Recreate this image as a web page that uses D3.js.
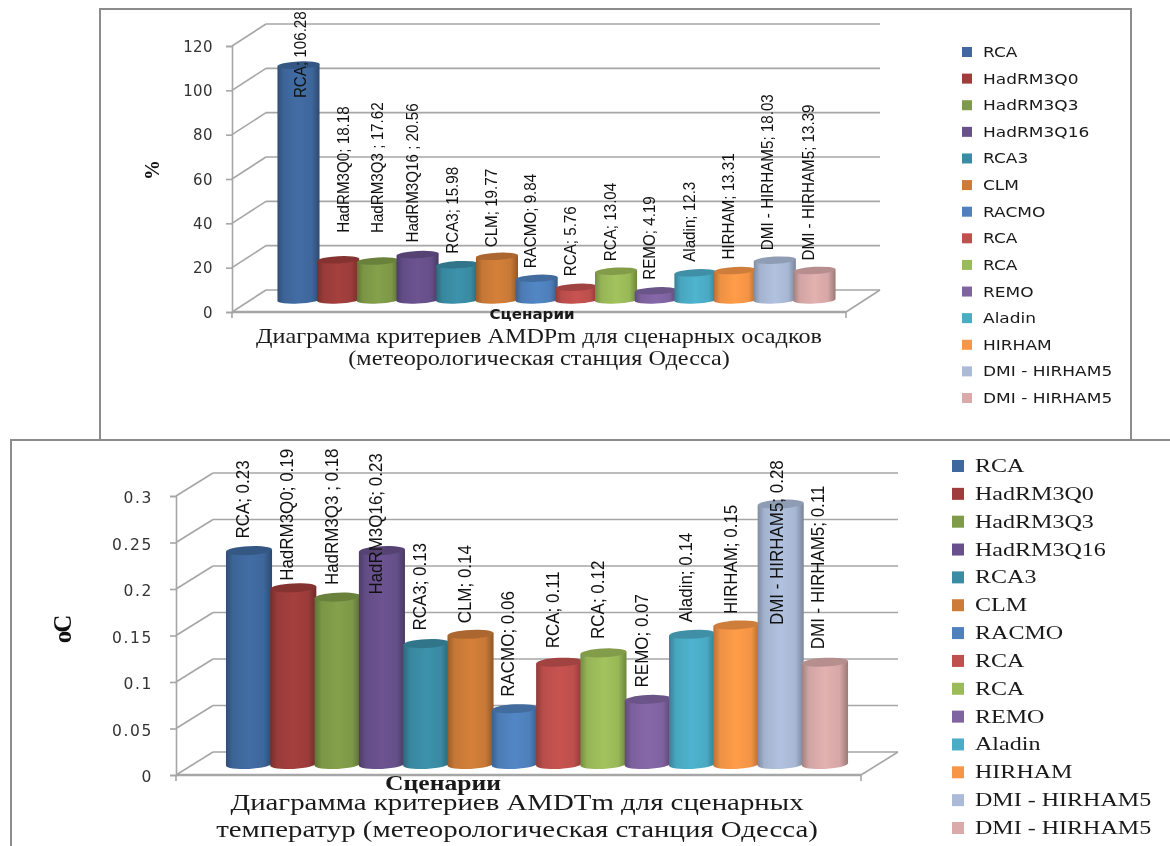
<!DOCTYPE html>
<html>
<head>
<meta charset="utf-8">
<script src="https://cdn.jsdelivr.net/npm/d3@7"></script>
<style>
    html, body { margin: 0; padding: 0; background: #fff; }
    svg { display: block; filter: blur(0.35px); }
</style>
</head>
<body>
<script>
const legendNames = ["RCA", "HadRM3Q0", "HadRM3Q3", "HadRM3Q16", "RCA3", "CLM", "RACMO", "RCA", "RCA", "REMO", "Aladin", "HIRHAM", "DMI - HIRHAM5", "DMI - HIRHAM5"];
const barColors = ["#3F689E", "#9E3D3B", "#7F9A48", "#67508B", "#3A8CA5", "#CC7B38", "#4F81BD", "#C0504D", "#9BBB59", "#8064A2", "#4BACC6", "#F79646", "#AABAD7", "#D9AAA9"];

const precipNames = ["RCA", "HadRM3Q0", "HadRM3Q3 ", "HadRM3Q16 ", "RCA3", "CLM", "RACMO", "RCA", "RCA", "REMO", "Aladin", "HIRHAM", "DMI - HIRHAM5", "DMI - HIRHAM5"];
const precipValues = [106.28, 18.18, 17.62, 20.56, 15.98, 19.77, 9.84, 5.76, 13.04, 4.19, 12.3, 13.31, 18.03, 13.39];
const precipTicks = [0, 20, 40, 60, 80, 100, 120];
const precipTitle = ["Диаграмма критериев AMDPm для сценарных осадков", "(метеорологическая станция Одесса)"];

const tempNames = ["RCA", "HadRM3Q0", "HadRM3Q3 ", "HadRM3Q16", "RCA3", "CLM", "RACMO", "RCA", "RCA", "REMO", "Aladin", "HIRHAM", "DMI - HIRHAM5", "DMI - HIRHAM5"];
const tempValues = [0.23, 0.19, 0.18, 0.23, 0.13, 0.14, 0.06, 0.11, 0.12, 0.07, 0.14, 0.15, 0.28, 0.11];
const tempTicks = [0, 0.05, 0.1, 0.15, 0.2, 0.25, 0.3];
const tempTitle = ["Диаграмма критериев AMDTm для сценарных", "температур (метеорологическая станция Одесса)"];

// manual data label placement, the labels were dragged by hand in the original
const precipLabelGap = [-33, 27, 28, 12, 11, 9, 10, 11, 10, 11, 11, 11, 10, 10];
const precipLabelDx = [1.5, 5, -1, -5.6, -5, -6, -6.7, -6.4, -6, -7, -6.5, -7, -8, -6.5];
const tempLabelGap = [12, 7, 12, -44, 13, 11, 12, 14, 14, 12, 12, 11, -121, 13];
const tempLabelDx = [-6, -6, -6, -6, -6, -6, -7, -6, -6, -6, -6, -6, -4, -7];

const svgWidth = 1170;
const svgHeight = 846;

const labelFont = '"Liberation Sans", sans-serif';
const serifFont = '"Liberation Serif", serif';
const sansFont = '"DejaVu Sans", sans-serif';

const svg = d3.select("body")
    .append("svg")
    .attr("width", svgWidth)
    .attr("height", svgHeight)
    .style("background", "#fff");
const defs = svg.append("defs");

// Cylinder shading, one gradient per colour
barColors.forEach((c, i) => {
    const g = defs.append("linearGradient").attr("id", `cyl${i}`);
    const stops = [
        [0, d3.color(c).darker(0.8)],
        [0.15, d3.color(c).darker(0.1)],
        [0.5, d3.color(c).brighter(0.12)],
        [0.82, d3.color(c).darker(0.05)],
        [1, d3.color(c).darker(0.95)]
    ];
    stops.forEach(s => g.append("stop").attr("offset", s[0]).attr("stop-color", s[1]));
});

function stretched_text(parent, str, x, y, sx, font, size, weight) {
    return parent.append("text")
        .text(str)
        .attr("transform", `translate(${x},${y}) scale(${sx},1)`)
        .attr("font-family", font)
        .attr("font-size", size)
        .attr("font-weight", weight || "normal")
        .attr("fill", "#1a1a1a");
}

function render_chart(c) {
    const g = svg.append("g");

    // Value scales, front wall for the axis, bar plane for the cylinders
    const yFront = d3.scaleLinear().domain(c.domain).range(c.frontRange);
    const yBar = d3.scaleLinear().domain(c.domain).range(c.barRange);
    const x = d3.scaleBand().domain(d3.range(c.values.length)).range(c.xRange);
    const barW = x.bandwidth() * c.barRatio;
    const [dx, dy] = c.depth;
    const axisX = c.axisX;

    // Back wall lines and the diagonals on the side wall
    const grid = g.append("g").attr("stroke", "#A6A6A6").attr("stroke-width", 1.6).attr("fill", "none");
    grid.selectAll(".back")
        .data(c.ticks)
        .join("line")
        .attr("x1", axisX + dx).attr("x2", c.floorEnd + dx)
        .attr("y1", d => yFront(d) + dy).attr("y2", d => yFront(d) + dy);
    grid.selectAll(".side")
        .data(c.ticks)
        .join("line")
        .attr("x1", axisX).attr("x2", axisX + dx)
        .attr("y1", d => yFront(d)).attr("y2", d => yFront(d) + dy);

    // Floor
    grid.append("line")
        .attr("x1", axisX).attr("x2", c.floorEnd)
        .attr("y1", yFront(0)).attr("y2", yFront(0))
        .attr("stroke-width", 2.4);
    grid.append("line")
        .attr("x1", c.floorEnd).attr("x2", c.floorEnd + dx)
        .attr("y1", yFront(0)).attr("y2", yFront(0) + dy);
    grid.append("line")
        .attr("x1", c.floorEnd).attr("x2", c.floorEnd)
        .attr("y1", yFront(0)).attr("y2", yFront(0) + 6);
    grid.append("line")
        .attr("x1", axisX).attr("x2", axisX)
        .attr("y1", yFront(0)).attr("y2", yFront(0) + 6);

    // Axis
    const axis = g.append("g")
        .attr("transform", `translate(${axisX},0)`)
        .call(d3.axisLeft(yFront).tickValues(c.ticks).tickSize(6).tickPadding(c.tickPadding).tickFormat(d => String(d)));
    axis.selectAll("path, line").attr("stroke", "#A6A6A6").attr("stroke-width", 1.6);
    axis.selectAll("text")
        .attr("font-family", sansFont)
        .attr("font-size", c.tickSize)
        .attr("letter-spacing", c.tickSpacing)
        .attr("y", c.tickDy)
        .attr("fill", "#333");

    // Cylinders
    const bars = g.append("g").selectAll("g")
        .data(c.values)
        .join("g");
    const tilt = barW / 2 * Math.sin(3 * Math.PI / 180);
    bars.append("path")
        .attr("fill", (d, i) => `url(#cyl${i})`)
        .attr("d", (d, i) => {
            const x0 = x(i) + x.bandwidth() / 2 - barW / 2;
            const x1 = x0 + barW;
            const top = yBar(d);
            const bottom = yBar(0);
            return `M${x0},${top + tilt} L${x0},${bottom + tilt} A${barW / 2},${c.capRy} -3 0 0 ${x1},${bottom - tilt} L${x1},${top - tilt} Z`;
        });
    bars.append("ellipse")
        .attr("rx", barW / 2)
        .attr("ry", c.capRy)
        .attr("fill", (d, i) => d3.color(barColors[i]).darker(0.5))
        .attr("transform", (d, i) => `translate(${x(i) + x.bandwidth() / 2},${yBar(d)}) rotate(-3)`);

    // Data labels
    g.append("g").selectAll("text")
        .data(c.values)
        .join("text")
        .text((d, i) => `${c.names[i]}; ${d}`)
        .attr("transform", (d, i) => `translate(${x(i) + x.bandwidth() / 2 + c.labelDx[i]},${yBar(d) - c.labelGap[i]}) rotate(-90) scale(${c.labelStretch},1)`)
        .attr("dy", "0.35em")
        .attr("font-family", labelFont)
        .attr("font-size", c.labelSize)
        .attr("fill", "#111");

    // Axis titles and caption
    stretched_text(g, "Сценарии", c.xTitle.x, c.xTitle.y, c.xTitle.stretch, c.xTitle.font, c.xTitle.size, "bold").attr("text-anchor", "middle");
    g.append("text")
        .text(c.yTitle.text)
        .attr("transform", `translate(${c.yTitle.x},${c.yTitle.y}) rotate(-90)`)
        .attr("text-anchor", "middle")
        .attr("font-family", serifFont)
        .attr("font-weight", "bold")
        .attr("font-size", c.yTitle.size)
        .attr("letter-spacing", c.yTitle.spacing)
        .attr("fill", "#111");
    c.title.forEach((t, i) => {
        stretched_text(g, t, c.titleX, c.titleY[i], c.titleStretch, serifFont, c.titleSize).attr("text-anchor", "middle");
    });

    // Legend
    const yLegend = d3.scalePoint().domain(d3.range(legendNames.length)).range(c.legend.range);
    const legend = g.append("g").selectAll("g")
        .data(legendNames)
        .join("g");
    legend.append("rect")
        .attr("x", c.legend.x)
        .attr("y", (d, i) => yLegend(i) - c.legend.box / 2)
        .attr("width", c.legend.box)
        .attr("height", c.legend.box)
        .attr("fill", (d, i) => barColors[i]);
    legend.each(function (d, i) {
        stretched_text(d3.select(this), d, c.legend.textX, yLegend(i) + c.legend.baseline, c.legend.stretch, c.legend.font, c.legend.size);
    });
}

// Frames of the two pasted charts
const frames = svg.append("g").attr("fill", "none").attr("stroke", "#8C8C8C").attr("stroke-width", 2);
frames.append("rect").attr("x", 100).attr("y", 9).attr("width", 1031).attr("height", 431);
frames.append("path").attr("d", "M11,846 L11,440 L1170,440");

render_chart({
    names: precipNames, values: precipValues, ticks: precipTicks, title: precipTitle,
    labelGap: precipLabelGap, labelDx: precipLabelDx,
    domain: [0, 120], frontRange: [312, 46], barRange: [300, 34.8],
    xRange: [278.65, 834.35], barRatio: 1.06, capRy: 3.6,
    axisX: 232, floorEnd: 846, depth: [34, -22],
    tickPadding: 13, tickSize: 15, tickSpacing: 0.4, tickDy: 0.5,
    labelSize: 16.5, labelStretch: 0.92,
    xTitle: {x: 532, y: 319, font: sansFont, size: 14, stretch: 1.08},
    yTitle: {text: "%", x: 159, y: 170, size: 20, spacing: 0},
    titleX: 539, titleY: [343, 365], titleStretch: 1.18, titleSize: 20.5,
    legend: {range: [52, 398], x: 962, box: 10, textX: 983, baseline: 5, font: sansFont, size: 13.5, stretch: 1.26}
});

render_chart({
    names: tempNames, values: tempValues, ticks: tempTicks, title: tempTitle,
    labelGap: tempLabelGap, labelDx: tempLabelDx,
    domain: [0, 0.3], frontRange: [775, 496], barRange: [764.5, 485.5],
    xRange: [226.85, 847.15], barRatio: 1.04, capRy: 4.4,
    axisX: 176, floorEnd: 861, depth: [37, -23],
    tickPadding: 17, tickSize: 15.5, tickSpacing: 1.6, tickDy: 2,
    labelSize: 17.5, labelStretch: 0.97,
    xTitle: {x: 443, y: 790, font: serifFont, size: 20, stretch: 1.28},
    yTitle: {text: "oC", x: 71, y: 630, size: 25, spacing: -2},
    titleX: 517, titleY: [810, 837], titleStretch: 1.255, titleSize: 23,
    legend: {range: [466, 828], x: 952, box: 12, textX: 975, baseline: 6, font: serifFont, size: 18.5, stretch: 1.3}
});
</script>
</body>
</html>
